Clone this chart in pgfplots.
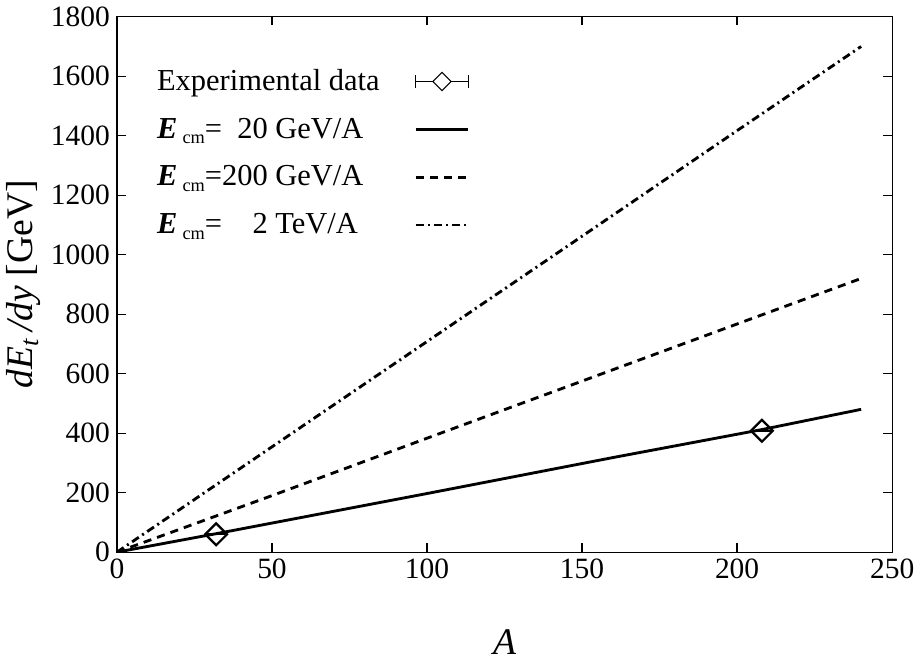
\documentclass[border=0pt]{standalone}
\usepackage{fontspec}
\setmainfont{Liberation Serif}
\usepackage{calc}
\usepackage{pgfplots}
\pgfplotsset{compat=1.18}

\newcommand{\Ecm}{\textbf{\textit{E}}\,\raisebox{-0.4ex}{\small cm}}
\newcommand{\numbox}[1]{\makebox[\widthof{200}][r]{#1}}
\newcommand{\ticktext}[1]{\mbox{\fontsize{14.5}{16}\selectfont #1}}

\begin{document}
\begin{tikzpicture}
\begin{axis}[
    width=381.5pt, height=263.5pt,
    scale only axis,
    xmin=0, xmax=250, ymin=0, ymax=1800,
    xtick={0,50,100,150,200,250},
    ytick={0,200,400,600,800,1000,1200,1400,1600,1800},
    xticklabel={\ticktext{\pgfmathprintnumber[assume math mode=true,1000 sep={}]{\tick}}},
    yticklabel={\ticktext{\pgfmathprintnumber[assume math mode=true,1000 sep={}]{\tick}}},
    tick align=inside,
    major tick length=4.3pt,
    axis line style={line width=0.6pt},
    every tick/.style={black, line width=0.6pt},
    xlabel={\textit{A}},
    ylabel={\textit{dE}\textsubscript{\textit{t}}\,\textit{/dy} [GeV]},
    label style={font=\fontsize{18.5}{21}\selectfont},
    xlabel style={yshift=-18pt},
    ylabel style={yshift=-2pt},
    legend plot pos=right,
    legend cell align=left,
    legend style={draw=none, fill=none,
        at={(rel axis cs:0.046,0.91)}, anchor=north west,
        font=\fontsize{15}{17}\selectfont,
        row sep=8pt, column sep=15pt, inner sep=0pt},
    legend image code/.code={\draw[#1] (0pt,0pt) -- (26pt,0pt);},
]
\addplot[only marks, mark=square, mark size=3.8pt,
    mark options={rotate=45, line width=1.1pt},
    legend image code/.code={
        \draw[line width=0.5pt] (0pt,0pt) -- (26pt,0pt);
        \draw[line width=0.5pt] (0pt,-3pt) -- (0pt,3pt);
        \draw[line width=0.5pt] (26pt,-3pt) -- (26pt,3pt);
        \draw[line width=0.5pt, fill=white] (13pt,4.5pt) -- (17.5pt,0pt) -- (13pt,-4.5pt) -- (8.5pt,0pt) -- cycle;
    },
    error bars/.cd, x dir=both, x explicit, error mark=none,
    error bar style={line width=1pt}]
coordinates {
    (32,60) +- (3,0)
    (208,408) +- (3,0)
};
\addlegendentry{Experimental data}

\addplot[line width=1.4pt, solid] coordinates {
    (0,0) (32,62) (100,197) (160,318) (208,412) (240,480)
};
\addlegendentry{\Ecm=\numbox{20} GeV/A}

\addplot[line width=1.4pt, dash pattern=on 4pt off 3pt] coordinates {
    (0,0) (50,190) (100,383) (150,575) (200,767) (240,920)
};
\addlegendentry{\Ecm=\numbox{200} GeV/A}

\addplot[line width=1.4pt, dash pattern=on 4pt off 2pt on 1pt off 2pt] coordinates {
    (0,0) (50,354) (100,708) (150,1062) (200,1417) (240,1700)
};
\addlegendentry{\Ecm=\numbox{2} TeV/A}
\end{axis}
\end{tikzpicture}
\end{document}
